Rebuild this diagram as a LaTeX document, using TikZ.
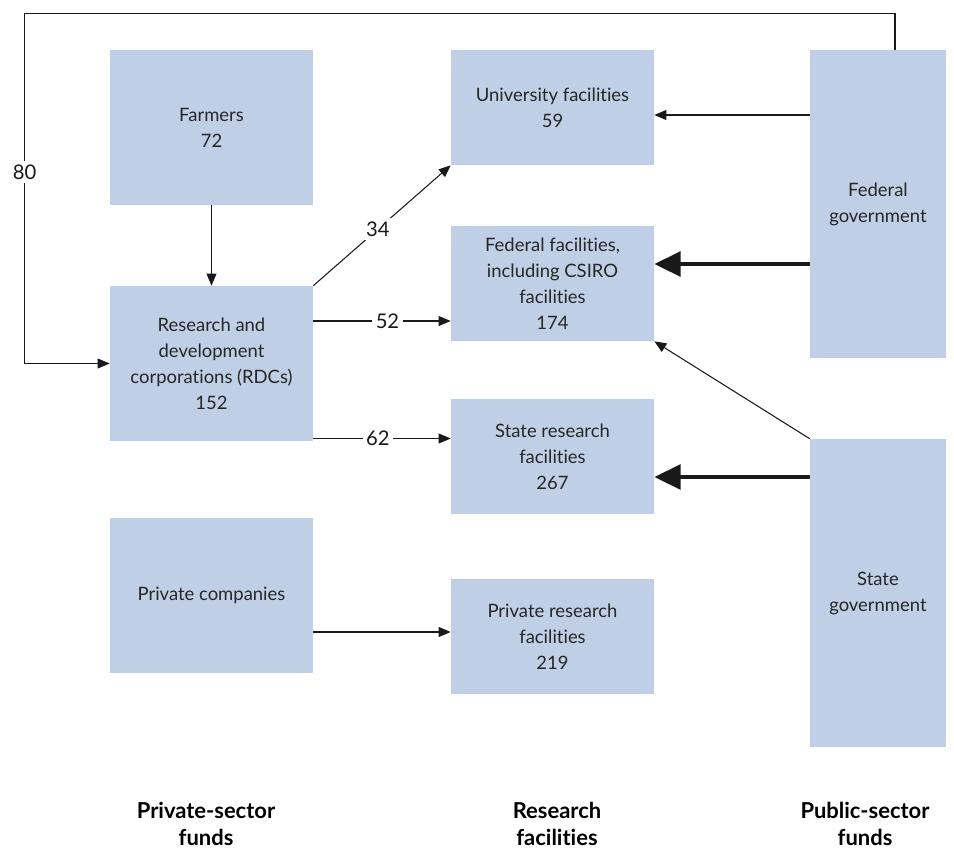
\documentclass[tikz,border=0pt]{standalone}
\usepackage{fontspec}
\setmainfont[Ligatures=NoCommon]{Lato}
\usepackage{xcolor}
\usetikzlibrary{arrows.meta,positioning,calc}
\definecolor{boxblue}{RGB}{191,208,230}
\tikzset{
  box/.style={fill=boxblue, draw=none, align=center, inner sep=0pt,
              font=\fontsize{10.5}{14.8}\selectfont, text=black!85},
  fundbox/.style={box, minimum width=4.06cm, minimum height=3.1cm},
  facbox/.style={box, minimum width=4.06cm, minimum height=2.3cm},
  govbox/.style={box, minimum width=2.72cm, minimum height=6.16cm},
  flow/.style={-{Triangle[length=6.8pt,width=5.6pt]}, line width=0.6pt, black!90},
  bigflow/.style={-{Triangle[length=15pt,width=14pt]}, line width=2.3pt, black!90},
  num/.style={fill=white, inner sep=2pt, font=\fontsize{11.5}{12}\selectfont},
  colhead/.style={align=center, inner sep=0pt, font=\fontsize{12.5}{15.5}\selectfont\bfseries},
}
\begin{document}
\begin{tikzpicture}[x=0.02cm, y=-0.02cm]
  \useasboundingbox (0,0) rectangle (954,850);
  % funders on the left
  \node[fundbox] (farmers) at (211.5,127.5) {Farmers\\72};
  \node[fundbox] (rdc) at (211.5,363.5) {Research and\\development\\corporations (RDCs)\\152};
  \node[fundbox] (privco) at (211.5,595.5) {Private companies};
  % research facilities in the middle
  \node[facbox] (uni) at (552.5,107.5) {University facilities\\59};
  \node[facbox] (fedfac) at (552.5,283.5) {Federal facilities,\\including CSIRO\\facilities\\174};
  \node[facbox] (statefac) at (552.5,456.5) {State research\\facilities\\267};
  \node[facbox] (privfac) at (552.5,636.5) {Private research\\facilities\\219};
  % government on the right
  \node[govbox] (fedgov) at (878,204) {Federal\\government};
  \node[govbox] (stategov) at (878,593) {State\\government};

  % flows
  \draw[flow] (farmers) -- (rdc);
  \draw[flow] (rdc.north east) -- node[num, pos=0.47] {34} (uni.south west);
  \coordinate (r52) at ([yshift=0.85cm]rdc.east);
  \draw[flow] (r52) -- node[num, pos=0.54] {52} (r52 -| fedfac.west);
  \coordinate (r62) at ([yshift=-1.5cm]rdc.east);
  \draw[flow] (r62) -- node[num, pos=0.47] {62} (r62 -| statefac.west);
  \coordinate (pc) at ([yshift=-0.73cm]privco.east);
  \draw[flow] (pc) -- (pc -| privfac.west);
  \coordinate (u) at ([yshift=-0.15cm]uni.east);
  \draw[flow] (u -| fedgov.west) -- (u);
  \coordinate (ff) at ([yshift=0.39cm]fedfac.east);
  \draw[bigflow] (ff -| fedgov.west) -- (ff);
  \coordinate (sf) at ([yshift=-0.41cm]statefac.east);
  \draw[bigflow] (sf -| stategov.west) -- (sf);
  \draw[flow] (stategov.north west) -- (fedfac.south east);
  % federal government loop back to the RDCs
  \coordinate (loop) at ([xshift=-1.7cm]rdc.west);
  \draw[flow] ([xshift=0.34cm]fedgov.north) -- ++(0,-36) -| node[num, pos=0.726] {80} (loop) -- (rdc.west);

  % column headings
  \node[colhead] (hpriv) at (206,824) {Private-sector\\funds};
  \node[colhead] (hres) at (557,824) {Research\\facilities};
  \node[colhead] (hpub) at (865,824) {Public-sector\\funds};
\end{tikzpicture}
\end{document}
